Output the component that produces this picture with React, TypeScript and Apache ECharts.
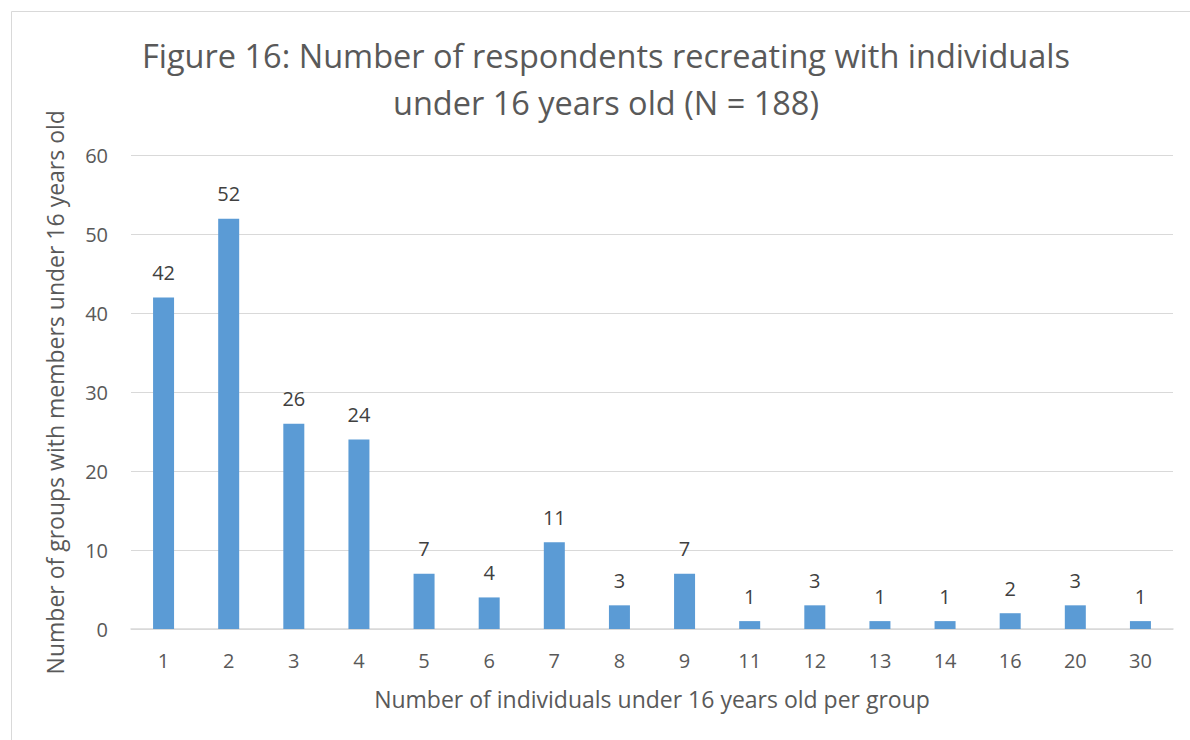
import React, { useEffect, useRef } from "react";
import * as echarts from "echarts";

const categories = ["1", "2", "3", "4", "5", "6", "7", "8", "9", "11", "12", "13", "14", "16", "20", "30"];
const values = [42, 52, 26, 24, 7, 4, 11, 3, 7, 1, 3, 1, 1, 2, 3, 1];
const titleLines = ["Figure 16: Number of respondents recreating with individuals", "under 16 years old (N = 188)"];
const xName = "Number of individuals under 16 years old per group";
const yName = "Number of groups with members under 16 years old";

const FONT = "'Open Sans', sans-serif";

export default function App() {
  const ref = useRef<HTMLDivElement>(null);
  useEffect(() => {
    const chart = echarts.init(ref.current!, null, { renderer: "svg" });
    chart.setOption({
      animation: false,
      backgroundColor: "#ffffff",
      textStyle: { fontFamily: FONT },
      graphic: [
        {
          type: "rect",
          shape: { x: 11.5, y: 11.5, width: 1200, height: 760 },
          style: { fill: "none", stroke: "#d9d9d9", lineWidth: 1 },
          silent: true,
        },
        {
          type: "text",
          x: 606,
          y: 32,
          style: {
            text: titleLines.join("\n"),
            fill: "#595959",
            fontSize: 32.5,
            fontFamily: FONT,
            textAlign: "center",
            lineHeight: 47,
          },
        },
      ],
      grid: { left: 131, right: 17, top: 155.5, bottom: 111, containLabel: false },
      xAxis: {
        type: "category",
        data: categories,
        name: xName,
        nameLocation: "middle",
        nameGap: 58,
        nameTextStyle: { color: "#595959", fontSize: 23, fontFamily: FONT },
        axisLine: { lineStyle: { color: "#d9d9d9", width: 1.5 } },
        axisTick: { show: false },
        axisLabel: { color: "#595959", fontSize: 20, margin: 21, fontFamily: FONT },
      },
      yAxis: {
        type: "value",
        min: 0,
        max: 60,
        interval: 10,
        name: yName,
        nameLocation: "middle",
        nameGap: 65,
        nameTextStyle: { color: "#595959", fontSize: 23, fontFamily: FONT },
        axisLine: { show: false },
        axisTick: { show: false },
        axisLabel: { color: "#595959", fontSize: 20, margin: 23, fontFamily: FONT },
        splitLine: { lineStyle: { color: "#d9d9d9", width: 1 } },
      },
      series: [
        {
          type: "bar",
          data: values,
          barWidth: 21,
          itemStyle: { color: "#5b9bd5" },
          label: {
            show: true,
            position: "top",
            distance: 15,
            color: "#404040",
            fontSize: 20,
            fontFamily: FONT,
          },
        },
      ],
    });
    return () => chart.dispose();
  }, []);
  return (
    <div
      ref={ref}
      style={{ position: "absolute", left: 0, top: 0, width: 1190, height: 740 }}
    />
  );
}
